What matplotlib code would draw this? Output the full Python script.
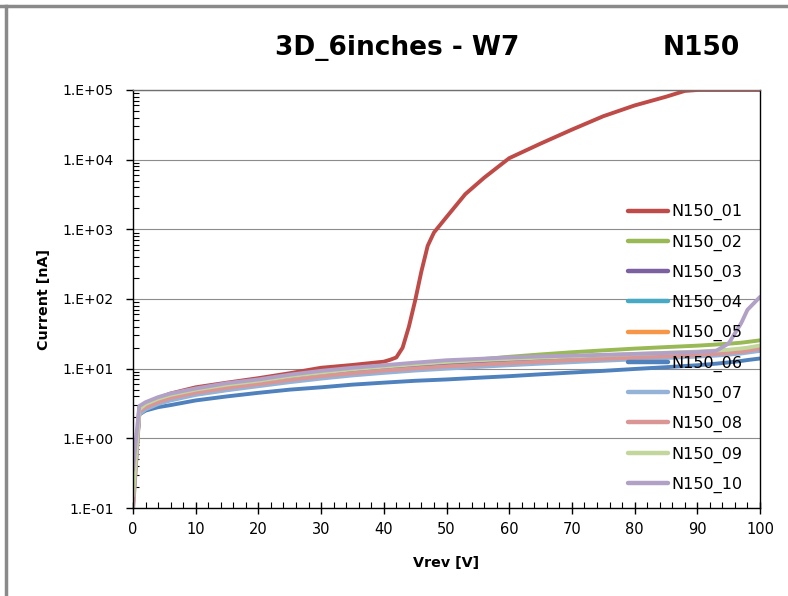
import math
import matplotlib
matplotlib.use("Agg")
import matplotlib.pyplot as plt
from matplotlib.lines import Line2D
from matplotlib.ticker import LogLocator, FixedLocator, FuncFormatter, NullFormatter

# voltage grids
v_01 = [0, 1, 2, 4, 6, 10, 15, 20, 25, 30, 35, 40, 41, 42, 43, 44, 45, 46, 47, 48,
        50, 53, 56, 60, 65, 70, 75, 80, 85, 88, 90, 95, 100]
v_base = [0, 1, 2, 4, 6, 10, 15, 20, 25, 30, 35, 40, 45, 50, 55, 60, 65, 70, 75, 80,
          85, 90, 93, 95, 97, 98, 100]

# currents [nA]
i_01 = [0.12, 2.8, 3.2, 3.8, 4.4, 5.4, 6.3, 7.3, 8.6, 10.3, 11.3, 12.6, 13.4, 14.5, 20,
        40, 95, 250, 580, 900, 1500, 3200, 5500, 10500, 17000, 27000, 42000, 60000,
        80000, 97000, 100000, 100000, 100000]
i_02 = [0.2, 2.4, 2.8, 3.4, 3.9, 4.7, 5.5, 6.4, 7.4, 8.4, 9.4, 10.4, 11.4, 12.4, 13.5,
        14.8, 16.0, 17.2, 18.3, 19.4, 20.4, 21.4, 22.2, 22.8, 23.6, 24.2, 25.5]
i_03 = [0.14, 2.4, 2.8, 3.3, 3.8, 4.6, 5.4, 6.2, 7.1, 8.0, 8.9, 9.7, 10.5, 11.2, 11.9,
        12.6, 13.2, 13.8, 14.4, 15.0, 15.6, 16.3, 16.9, 17.4, 18.2, 18.8, 20.5]
i_04 = [0.12, 2.3, 2.7, 3.2, 3.7, 4.4, 5.2, 5.9, 6.8, 7.6, 8.4, 9.2, 9.9, 10.6, 11.2,
        11.8, 12.4, 13.0, 13.6, 14.2, 14.8, 15.5, 16.0, 16.5, 17.1, 17.6, 18.5]
i_05 = [0.1, 2.3, 2.7, 3.2, 3.6, 4.3, 5.0, 5.8, 6.6, 7.5, 8.3, 9.1, 9.8, 10.5, 11.1,
        11.8, 12.4, 13.0, 13.6, 14.2, 14.9, 15.6, 16.2, 16.7, 17.3, 17.8, 19.0]
i_06 = [0.18, 2.2, 2.5, 2.8, 3.0, 3.5, 4.0, 4.5, 5.0, 5.4, 5.9, 6.3, 6.7, 7.0, 7.4,
        7.8, 8.3, 8.8, 9.3, 9.9, 10.5, 11.2, 11.8, 12.3, 12.9, 13.3, 14.0]
i_07 = [0.09, 2.2, 2.6, 3.1, 3.5, 4.2, 4.9, 5.6, 6.4, 7.2, 8.0, 8.7, 9.4, 10.0, 10.6,
        11.2, 11.8, 12.4, 13.0, 13.6, 14.2, 14.9, 15.4, 15.9, 16.5, 17.0, 18.0]
i_08 = [0.11, 2.4, 2.8, 3.3, 3.8, 4.5, 5.3, 6.0, 6.9, 7.8, 8.6, 9.4, 10.1, 10.8, 11.4,
        12.0, 12.6, 13.2, 13.8, 14.4, 15.0, 15.7, 16.3, 16.8, 17.5, 18.0, 19.5]
i_09 = [0.15, 2.6, 3.1, 3.7, 4.2, 5.0, 5.9, 6.7, 7.8, 8.8, 9.8, 10.7, 11.6, 12.5, 13.2,
        13.8, 14.4, 15.0, 15.6, 16.2, 16.9, 17.6, 18.2, 18.7, 19.5, 20.0, 21.5]
i_10 = [0.35, 2.9, 3.3, 3.9, 4.4, 5.2, 6.2, 7.0, 8.2, 9.3, 10.3, 11.2, 12.2, 13.2, 13.8,
        14.5, 15.0, 15.4, 15.8, 16.3, 16.8, 17.3, 18.0, 23, 45, 70, 107]

labels = ["N150_01", "N150_02", "N150_03", "N150_04", "N150_05",
          "N150_06", "N150_07", "N150_08", "N150_09", "N150_10"]
xs = [v_01] + [v_base] * 9
ys = [i_01, i_02, i_03, i_04, i_05, i_06, i_07, i_08, i_09, i_10]
colors = ["#BE4B48", "#98B954", "#7D60A0", "#46AAC5", "#F79646",
          "#4F81BD", "#95B3D7", "#D99694", "#C3D69B", "#B2A1C7"]

x_ticks = [0, 10, 20, 30, 40, 50, 60, 70, 80, 90, 100]

fig = plt.figure(figsize=(7.88, 5.96), dpi=100)
ax = fig.add_axes([133 / 788, 1 - 508 / 596, 627 / 788, 418 / 596])

for x, y, c, lab in zip(xs, ys, colors, labels):
    ax.plot(x, y, color=c, lw=2.8, label=lab, solid_capstyle="round")

ax.set_yscale("log")
ax.set_ylim(0.1, 1e5)
ax.set_xlim(0, 100)

#axis ticks, excel style
ax.xaxis.set_major_locator(FixedLocator(x_ticks))
ax.xaxis.set_minor_locator(FixedLocator([v for v in range(0, 101, 2) if v % 10]))
ax.yaxis.set_major_locator(LogLocator(base=10, numticks=10))
ax.yaxis.set_minor_locator(LogLocator(base=10, subs=range(2, 10), numticks=20))
ax.yaxis.set_minor_formatter(NullFormatter())
ax.yaxis.set_major_formatter(FuncFormatter(lambda v, p: "1.E%+03d" % round(math.log10(v))))

ax.tick_params(axis="y", which="major", direction="out", length=5, width=1, pad=9, labelsize=10)
ax.tick_params(axis="y", which="minor", direction="in", length=4, width=0.8)
ax.tick_params(axis="x", which="major", direction="inout", length=8, width=1, pad=6, labelsize=10.5)
ax.tick_params(axis="x", which="minor", direction="in", length=4, width=0.8)

ax.grid(True, which="major", axis="y", color="#8c8c8c", lw=0.8)
for s in ["left", "bottom", "right"]:
    ax.spines[s].set_color("black")
    ax.spines[s].set_linewidth(1)
ax.spines["top"].set_color("#707070")
ax.spines["top"].set_linewidth(1)

ax.set_xlabel("Vrev [V]", fontsize=10.3, fontweight="bold", labelpad=14)
ax.set_ylabel("Current [nA]", fontsize=10.3, fontweight="bold", labelpad=8)

leg = ax.legend(loc="upper left", bbox_to_anchor=(0.780, 0.742), frameon=False, fontsize=11.5,
                handlelength=2.5, handletextpad=0.2, labelspacing=0.88, borderaxespad=0)
for h in leg.get_lines():
    h.set_linewidth(3.2)

fig.text(397 / 788, 1 - 55 / 596, "3D_6inches - W7", ha="center", va="baseline",
         fontsize=19, fontweight="bold")
fig.text(701 / 788, 1 - 55 / 596, "N150", ha="center", va="baseline",
         fontsize=19, fontweight="bold")

# frame of the chart area
fig.add_artist(Line2D([0, 1], [1 - 6 / 596] * 2, transform=fig.transFigure, color="#8a8a8a", lw=2.5))
fig.add_artist(Line2D([6 / 788] * 2, [0, 1 - 6 / 596], transform=fig.transFigure, color="#8a8a8a", lw=2.5))

fig.savefig("out.png", dpi=100)
